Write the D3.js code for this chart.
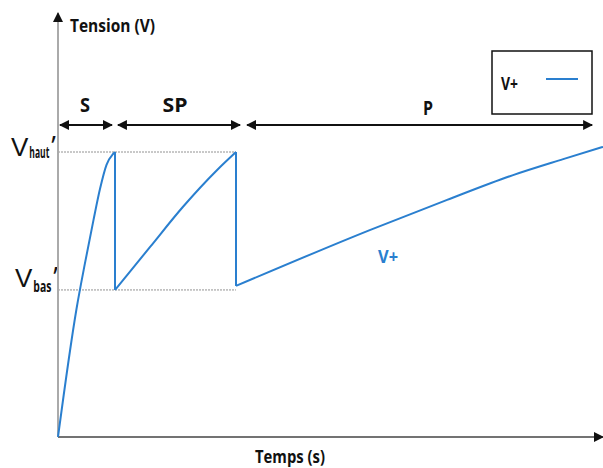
<!DOCTYPE html>
<html>
<head>
<meta charset="utf-8">
<script src="https://cdn.jsdelivr.net/npm/d3@7"></script>
<style>
  body { margin: 0; background: #fff; }
  text { font-family: "Open Sans", "Liberation Sans", sans-serif; }
</style>
</head>
<body>
<svg id="chart"></svg>
<script>
// courbe V+ par phase (temps en % de l'axe, tension relative a Vhaut')
var sTimes   = [0, 3.4, 4.95, 6.5, 7.7, 8.9, 10.1, 10.46];
var sValues  = [0, 0.45, 0.61, 0.76, 0.87, 0.955, 0.993, 1.0];
var spTimes  = [10.46, 16.9, 22.9, 29.2, 32.66];
var spValues = [0.516, 0.667, 0.807, 0.937, 1.0];
var pTimes   = [32.66, 57.2, 71.4, 83.5, 92.7, 100];
var pValues  = [0.53, 0.726, 0.832, 0.919, 0.975, 1.018];
var levels = [{name: "haut", v: 1.0}, {name: "bas", v: 0.516}];
var phases = [{label: "S", t0: 0.37, t1: 9.9}, {label: "SP", t0: 11.0, t1: 33.4}, {label: "P", t0: 34.7, t1: 98.0}];
var seriesName = "V+";

var width = 603, height = 468;
var svg = d3.select("#chart").attr("width", width).attr("height", height);

var x = d3.scaleLinear().domain([0, 100]).range([58, 603]);
var y = d3.scaleLinear().domain([0, 1]).range([437, 152]);
var blue = "#2a7fcf";

svg.append("defs").append("marker").attr("id", "ah").attr("viewBox", "0 0 10 10")
    .attr("refX", 9).attr("refY", 5).attr("markerWidth", 10).attr("markerHeight", 10)
    .attr("orient", "auto-start-reverse").attr("markerUnits", "userSpaceOnUse")
    .append("path").attr("d", "M0,0L10,5L0,10z").attr("fill", "#111");

// petit utilitaire: texte gras compresse facon Calibri
function label(px, py, txt, size, len, anchor, color) {
    return svg.append("text").attr("x", px).attr("y", py)
        .attr("text-anchor", anchor || "start")
        .attr("textLength", len).attr("lengthAdjust", "spacingAndGlyphs")
        .style("font-size", size + "px").style("font-weight", 700)
        .style("fill", color || "#111").text(txt);
}

// niveaux Vhaut' / Vbas'
svg.selectAll(".lvl").data(levels).enter().append("line")
    .attr("x1", x(0)).attr("x2", x(spTimes[spTimes.length - 1]))
    .attr("y1", function(d){ return y(d.v); }).attr("y2", function(d){ return y(d.v); })
    .style("stroke", "#777").style("stroke-width", 0.8).style("stroke-dasharray", "2,1");

levels.forEach(function(d){
    var haut = d.name == "haut";
    var t = svg.append("text").attr("x", haut ? 11 : 15).attr("y", haut ? 156 : 287)
        .style("font-family", "'Liberation Sans', sans-serif")
        .style("font-size", "26px").style("fill", "#111");
    t.append("tspan").text("V");
    t.append("tspan").attr("dx", 1).attr("dy", haut ? 2 : 5)
        .attr("textLength", haut ? 20 : 18).attr("lengthAdjust", "spacingAndGlyphs")
        .style("font-family", "'Open Sans', sans-serif")
        .style("font-size", "16px").style("font-weight", 700).text(d.name);
    t.append("tspan").attr("dx", 2).attr("dy", haut ? -2 : -5)
        .style("font-family", "'Open Sans', sans-serif")
        .style("font-size", "27px").text("\u2019");
});

// axes
svg.append("line").attr("x1", x(0)).attr("x2", x(0)).attr("y1", y(0)).attr("y2", 13)
    .style("stroke", "#aaa").style("stroke-width", 2).attr("marker-end", "url(#ah)");
svg.append("line").attr("x1", x(0)).attr("x2", 603).attr("y1", y(0)).attr("y2", y(0))
    .style("stroke", "#444").style("stroke-width", 1.5).attr("marker-end", "url(#ah)");

label(70, 32, "Tension  (V)", 18, 85);
label(290, 463, "Temps (s)", 18, 70, "middle");

// phases S / SP / P
svg.selectAll(".ph").data(phases).enter().append("line")
    .attr("x1", function(d){ return x(d.t0); }).attr("x2", function(d){ return x(d.t1); })
    .attr("y1", 125).attr("y2", 125)
    .style("stroke", "#111").style("stroke-width", 2)
    .attr("marker-start", "url(#ah)").attr("marker-end", "url(#ah)");
label(85, 112, phases[0].label, 19, 10, "middle");
label(175, 112, phases[1].label, 19, 25, "middle");
label(428, 115, phases[2].label, 19, 10, "middle");

// courbe
var line = d3.line().x(function(d){ return x(d[0]); }).y(function(d){ return y(d[1]); })
    .curve(d3.curveMonotoneX);
var segs = [[sTimes, sValues], [spTimes, spValues], [pTimes, pValues]];
segs.forEach(function(s){
    var pts = s[0].map(function(t, i){ return [t, s[1][i]]; });
    svg.append("path").datum(pts).attr("d", line)
        .style("fill", "none").style("stroke", blue).style("stroke-width", 2);
});
// chutes verticales entre phases
[[sTimes, spValues], [spTimes, pValues]].forEach(function(s){
    var t = s[0][s[0].length - 1];
    svg.append("line").attr("x1", x(t)).attr("x2", x(t))
        .attr("y1", y(1)).attr("y2", y(s[1][0]))
        .style("stroke", blue).style("stroke-width", 2);
});

label(388, 263, seriesName, 18, 20, "middle", blue);

// legende
svg.append("rect").attr("x", 492).attr("y", 51).attr("width", 100).attr("height", 63)
    .style("fill", "#fff").style("stroke", "#111").style("stroke-width", 1.5);
label(501, 90, seriesName, 17, 17);
svg.append("line").attr("x1", 546).attr("x2", 578).attr("y1", 79).attr("y2", 79)
    .style("stroke", blue).style("stroke-width", 2);
</script>
</body>
</html>
